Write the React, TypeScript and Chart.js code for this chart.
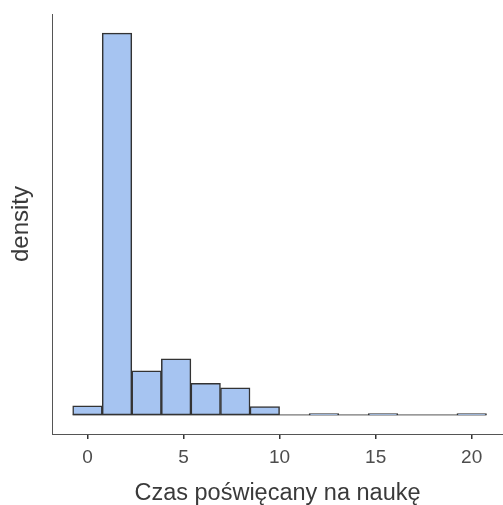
import React, { useEffect, useRef } from "react";
import { Chart, registerables } from "chart.js";

Chart.register(...registerables);

// Histogram bin centres (bin width ≈ 1.538) and density per bin
const binCenters = [0, 1.538, 3.077, 4.615, 6.154, 7.692, 9.231, 10.769, 12.308, 13.846, 15.385, 16.923, 18.462, 20];
const densities = [0.0105, 0.443, 0.0512, 0.0652, 0.0366, 0.0314, 0.0096, 0, 0.0014, 0, 0.0014, 0, 0, 0.0014];
const baselineX = [-0.769, 20.769];
const xTickValues = [0, 5, 10, 15, 20];
const xTitle = "Czas poświęcany na naukę";
const yTitle = "density";

export default function App() {
  const ref = useRef<HTMLCanvasElement | null>(null);

  useEffect(() => {
    if (!ref.current) return;
    const maxD = Math.max(...densities);
    const chart = new Chart(ref.current, {
      type: "bar",
      data: {
        datasets: [
          {
            type: "bar",
            data: binCenters.map((x, i) => ({ x, y: densities[i] })),
            backgroundColor: "#a6c4f1",
            borderColor: "#333333",
            borderWidth: 1.5,
            borderSkipped: false,
            barPercentage: 1,
            categoryPercentage: 1,
            order: 0,
          } as any,
          {
            type: "line",
            data: baselineX.map((x) => ({ x, y: 0 })),
            borderColor: "#555555",
            borderWidth: 1,
            pointRadius: 0,
            order: 1,
          } as any,
        ],
      },
      options: {
        responsive: false,
        animation: false,
        devicePixelRatio: 1,
        layout: { padding: { top: 14, left: 0, right: 0, bottom: 0 } },
        plugins: { legend: { display: false }, tooltip: { enabled: false } },
        scales: {
          x: {
            type: "linear",
            offset: false,
            min: -1.846,
            max: 21.63,
            afterBuildTicks: (scale: any) => {
              scale.ticks = xTickValues.map((v) => ({ value: v }));
            },
            afterFit: (scale: any) => {
              scale.height = 71;
            },
            ticks: {
              color: "#4d4d4d",
              padding: 7,
              maxRotation: 0,
              font: { family: "'Liberation Sans', Arial, sans-serif", size: 19 },
            },
            grid: {
              display: true,
              offset: false,
              drawOnChartArea: false,
              drawTicks: true,
              tickLength: 5,
              color: "#333333",
              lineWidth: 1.5,
            },
            border: { display: true, color: "#555555", width: 1 },
            title: {
              display: true,
              text: xTitle,
              color: "#3a3a3a",
              padding: { top: 0, bottom: 0 },
              font: { family: "'Liberation Sans', Arial, sans-serif", size: 23.5, lineHeight: 1 },
            },
          },
          y: {
            type: "linear",
            min: -0.05 * maxD,
            max: 1.05 * maxD,
            afterFit: (scale: any) => {
              scale.width = 52;
            },
            ticks: { display: false },
            grid: { display: false, drawTicks: false },
            border: { display: true, color: "#555555", width: 1 },
            title: {
              display: true,
              text: yTitle,
              color: "#3a3a3a",
              padding: { top: 7, bottom: 0 },
              font: { family: "'Liberation Sans', Arial, sans-serif", size: 24, lineHeight: 1.2 },
            },
          },
        },
      },
    });
    return () => chart.destroy();
  }, []);

  return (
    <div style={{ position: "fixed", left: 0, top: 0, width: 503, height: 505, background: "#fff" }}>
      <canvas ref={ref} width={503} height={505} style={{ display: "block" }} />
    </div>
  );
}
